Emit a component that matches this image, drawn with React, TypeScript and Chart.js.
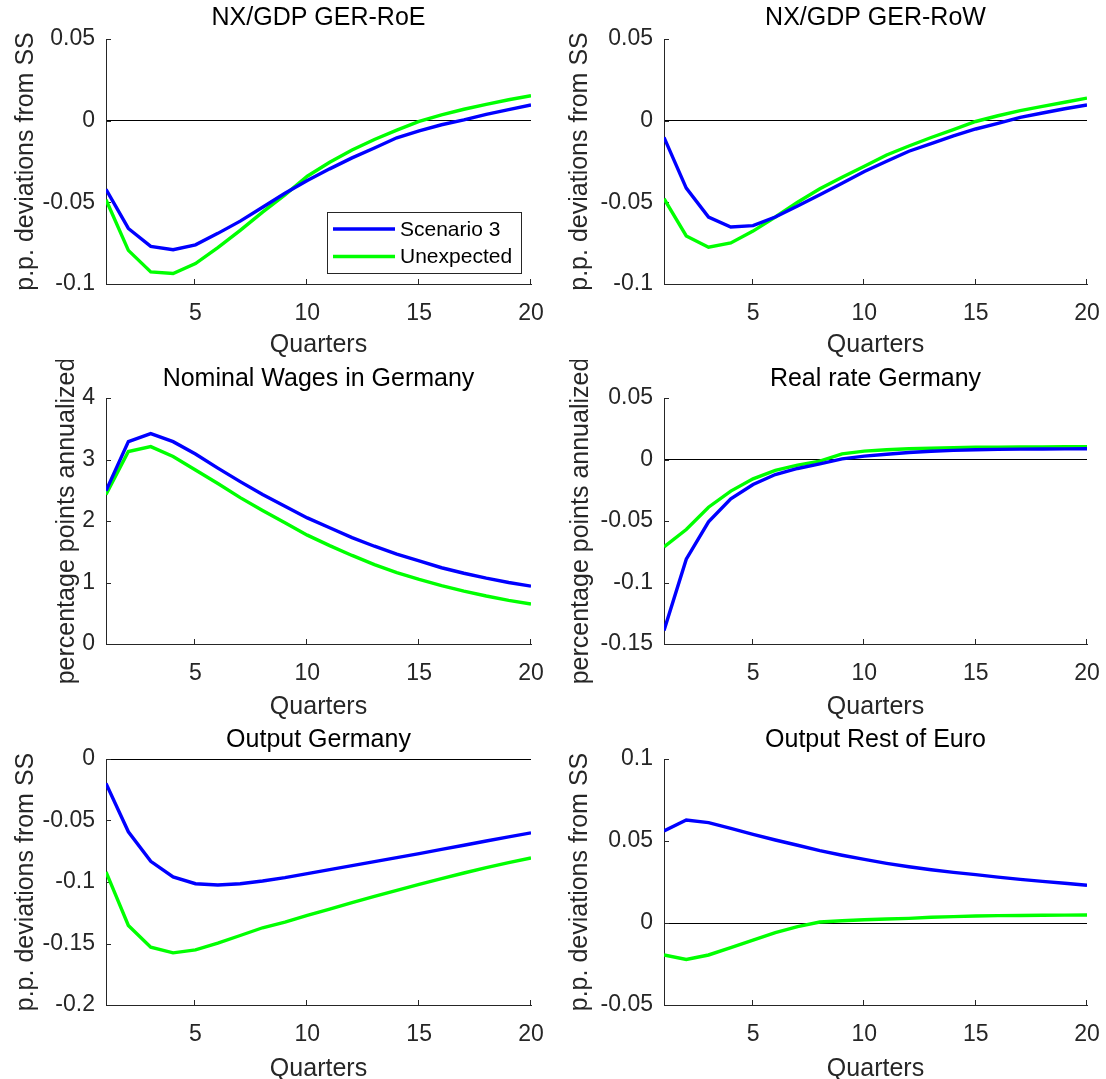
import React, { useEffect, useRef } from 'react';
import { Chart, registerables } from 'chart.js';

Chart.register(...registerables);

// ---------------- data ----------------
const quarters = [1, 2, 3, 4, 5, 6, 7, 8, 9, 10, 11, 12, 13, 14, 15, 16, 17, 18, 19, 20];
const seriesNames = ['Scenario 3', 'Unexpected'];
const xTicks = [5, 10, 15, 20];
const xTickLabels = ['5', '10', '15', '20'];

const nxRoeScenario3 = [-0.042, -0.066, -0.077, -0.079, -0.076, -0.069, -0.0615, -0.053, -0.0444, -0.0366, -0.0295, -0.0228, -0.0167, -0.0105, -0.0062, -0.0025, 0.0005, 0.0039, 0.0068, 0.0096];
const nxRoeUnexpected = [-0.0484, -0.0794, -0.0926, -0.0936, -0.0875, -0.0777, -0.0672, -0.056, -0.0454, -0.034, -0.0255, -0.018, -0.0115, -0.0058, -0.0005, 0.0035, 0.007, 0.01, 0.0128, 0.0153];
const nxYTicks = [-0.1, -0.05, 0, 0.05];
const nxYTickLabels = ['-0.1', '-0.05', '0', '0.05'];

const nxRowScenario3 = [-0.0102, -0.0413, -0.059, -0.0651, -0.0643, -0.059, -0.0523, -0.0454, -0.0383, -0.0311, -0.0248, -0.0187, -0.014, -0.0093, -0.0051, -0.0016, 0.002, 0.0047, 0.0073, 0.0096];
const nxRowUnexpected = [-0.0478, -0.0706, -0.0775, -0.0749, -0.0676, -0.059, -0.0499, -0.0417, -0.0346, -0.0279, -0.021, -0.0155, -0.0103, -0.0055, -0.0005, 0.003, 0.0061, 0.0088, 0.0113, 0.0138];

const wagesScenario3 = [2.49, 3.29, 3.42, 3.29, 3.09, 2.86, 2.64, 2.43, 2.24, 2.05, 1.89, 1.73, 1.59, 1.46, 1.35, 1.24, 1.15, 1.07, 1.0, 0.94];
const wagesUnexpected = [2.43, 3.13, 3.21, 3.05, 2.83, 2.61, 2.38, 2.17, 1.97, 1.77, 1.6, 1.44, 1.29, 1.16, 1.05, 0.95, 0.86, 0.78, 0.71, 0.65];
const wagesYTicks = [0, 1, 2, 3, 4];
const wagesYTickLabels = ['0', '1', '2', '3', '4'];

const realRateScenario3 = [-0.139, -0.081, -0.0507, -0.032, -0.0203, -0.0122, -0.0073, -0.0035, 0.0005, 0.0027, 0.0043, 0.0057, 0.0067, 0.0074, 0.0079, 0.0082, 0.0084, 0.0085, 0.0086, 0.0087];
const realRateUnexpected = [-0.071, -0.0569, -0.0388, -0.0257, -0.0157, -0.0089, -0.0046, -0.0014, 0.0046, 0.0068, 0.0079, 0.0087, 0.0092, 0.0096, 0.0099, 0.0101, 0.0102, 0.0103, 0.0104, 0.0104];
const realRateYTicks = [-0.15, -0.1, -0.05, 0, 0.05];
const realRateYTickLabels = ['-0.15', '-0.1', '-0.05', '0', '0.05'];

const outputGerScenario3 = [-0.0198, -0.0592, -0.0832, -0.0959, -0.1014, -0.1024, -0.1014, -0.0992, -0.0965, -0.0932, -0.09, -0.0867, -0.0834, -0.0802, -0.0769, -0.0735, -0.0701, -0.0667, -0.0633, -0.06];
const outputGerUnexpected = [-0.0918, -0.1353, -0.153, -0.1576, -0.1552, -0.1497, -0.1435, -0.1372, -0.1326, -0.1272, -0.122, -0.1168, -0.1117, -0.1068, -0.1019, -0.0973, -0.0927, -0.0883, -0.0842, -0.0804];
const outputGerYTicks = [-0.2, -0.15, -0.1, -0.05, 0];
const outputGerYTickLabels = ['-0.2', '-0.15', '-0.1', '-0.05', '0'];

const outputRoeScenario3 = [0.0561, 0.0628, 0.0612, 0.0577, 0.0541, 0.0506, 0.0474, 0.0441, 0.0413, 0.0388, 0.0364, 0.0343, 0.0325, 0.0309, 0.0295, 0.028, 0.0266, 0.0254, 0.0242, 0.023];
const outputRoeUnexpected = [-0.0195, -0.0222, -0.0195, -0.015, -0.0104, -0.0059, -0.0022, 0.0006, 0.0014, 0.002, 0.0024, 0.0028, 0.0035, 0.0039, 0.0043, 0.0045, 0.0046, 0.0047, 0.0048, 0.0049];
const outputRoeYTicks = [-0.05, 0, 0.05, 0.1];
const outputRoeYTickLabels = ['-0.05', '0', '0.05', '0.1'];

// ---------------- styling ----------------
const FONT = '"Liberation Sans", Arial, Helvetica, sans-serif';
const AXIS = '#262626';
const BLUE = '#0000ff';
const GREEN = '#00ff00';
const LINE_W = 3.4;
const TITLE_SIZE = 25;
const TICK_SIZE = 23;

type Spec = {
  title: string;
  yLabel: string;
  s3: number[];
  un: number[];
  yTicks: number[];
  yTickLabels: string[];
  legend: boolean;
  box: { left: number; top: number; width: number; height: number };
  yW: number;
  padR: number;
  titlePadTop: number;
  titlePadBottom: number;
  xH: number;
  xTitlePadBottom: number;
  yTitlePadTop: number;
};

const inwardTicks = {
  id: 'inwardTicks',
  beforeDatasetsDraw(chart: any) {
    const { ctx, chartArea, scales } = chart;
    const { left, bottom } = chartArea;
    ctx.save();
    ctx.strokeStyle = AXIS;
    ctx.lineWidth = 1;
    ctx.beginPath();
    scales.x.ticks.forEach((t: any) => {
      const px = Math.round(scales.x.getPixelForValue(t.value)) - 0.5;
      ctx.moveTo(px, bottom);
      ctx.lineTo(px, bottom - 5);
    });
    scales.y.ticks.forEach((t: any) => {
      const py = Math.round(scales.y.getPixelForValue(t.value)) + 0.5;
      ctx.moveTo(left, py);
      ctx.lineTo(left + 5, py);
    });
    ctx.stroke();
    ctx.restore();
  },
};

const boxLegend = {
  id: 'boxLegend',
  afterDatasetsDraw(chart: any, _args: any, opts: any) {
    if (!opts || !opts.display) return;
    const { ctx, chartArea } = chart;
    const w = 194;
    const h = 61;
    const bx = Math.round(chartArea.right - 10 - w);
    const by = Math.round(chartArea.bottom - 11 - h);
    ctx.save();
    ctx.fillStyle = '#ffffff';
    ctx.fillRect(bx, by, w, h);
    ctx.strokeStyle = AXIS;
    ctx.lineWidth = 1;
    ctx.strokeRect(bx + 0.5, by + 0.5, w, h);
    chart.data.datasets.forEach((ds: any, i: number) => {
      const ly = by + 17 + i * 27.5;
      ctx.strokeStyle = ds.borderColor;
      ctx.lineWidth = ds.borderWidth;
      ctx.beginPath();
      ctx.moveTo(bx + 6, ly);
      ctx.lineTo(bx + 68, ly);
      ctx.stroke();
      ctx.fillStyle = '#000000';
      ctx.font = `21px ${FONT}`;
      ctx.textBaseline = 'middle';
      ctx.textAlign = 'left';
      ctx.fillText(ds.label, bx + 73, ly + 1);
    });
    ctx.restore();
  },
};

function Panel({ spec }: { spec: Spec }) {
  const ref = useRef<HTMLCanvasElement>(null);
  useEffect(() => {
    const canvas = ref.current;
    if (!canvas) return;
    const toPts = (arr: number[]) => quarters.map((q, i) => ({ x: q, y: arr[i] }));
    const chart = new Chart(canvas, {
      type: 'line',
      data: {
        datasets: [
          { label: seriesNames[0], data: toPts(spec.s3), borderColor: BLUE, backgroundColor: BLUE, borderWidth: LINE_W, pointRadius: 0, tension: 0, fill: false },
          { label: seriesNames[1], data: toPts(spec.un), borderColor: GREEN, backgroundColor: GREEN, borderWidth: LINE_W, pointRadius: 0, tension: 0, fill: false },
        ],
      },
      options: {
        animation: false,
        responsive: false,
        devicePixelRatio: 1,
        layout: { padding: { left: 0, right: spec.padR, top: 0, bottom: 0 } },
        plugins: {
          legend: { display: false },
          tooltip: { enabled: false },
          title: {
            display: true,
            text: spec.title,
            color: '#000000',
            fullSize: false,
            font: { family: FONT, size: TITLE_SIZE, weight: 'normal' },
            padding: { top: spec.titlePadTop, bottom: spec.titlePadBottom },
          },
          boxLegend: { display: spec.legend },
        } as any,
        scales: {
          x: {
            type: 'linear',
            min: 1,
            max: 20,
            afterBuildTicks: (s: any) => {
              s.ticks = xTicks.map((v) => ({ value: v }));
            },
            afterFit: (s: any) => {
              s.height = spec.xH;
              s.paddingLeft = 0;
              s.paddingRight = 0;
            },
            grid: { drawOnChartArea: false, drawTicks: false },
            border: { display: true, color: AXIS, width: 1 },
            ticks: {
              color: AXIS,
              font: { family: FONT, size: TICK_SIZE },
              padding: 16,
              maxRotation: 0,
              autoSkip: false,
              callback: (_v: any, i: number) => xTickLabels[i],
            },
            title: {
              display: true,
              text: 'Quarters',
              color: AXIS,
              font: { family: FONT, size: TITLE_SIZE },
              padding: { top: 0, bottom: spec.xTitlePadBottom },
            },
          },
          y: {
            type: 'linear',
            min: spec.yTicks[0],
            max: spec.yTicks[spec.yTicks.length - 1],
            afterBuildTicks: (s: any) => {
              s.ticks = spec.yTicks.map((v) => ({ value: v }));
            },
            afterFit: (s: any) => {
              s.width = spec.yW;
            },
            grid: {
              drawTicks: false,
              lineWidth: 1,
              color: (c: any) => (c.tick && c.tick.value === 0 ? '#000000' : 'rgba(0,0,0,0)'),
            },
            border: { display: true, color: AXIS, width: 1 },
            ticks: {
              color: AXIS,
              font: { family: FONT, size: TICK_SIZE },
              padding: 11,
              autoSkip: false,
              callback: (_v: any, i: number) => spec.yTickLabels[i],
            },
            title: {
              display: true,
              text: spec.yLabel,
              color: AXIS,
              font: { family: FONT, size: TITLE_SIZE },
              padding: { top: spec.yTitlePadTop, bottom: 0 },
            },
          },
        },
      } as any,
      plugins: [inwardTicks, boxLegend],
    });
    return () => chart.destroy();
  }, [spec]);
  return (
    <div style={{ position: 'absolute', left: spec.box.left, top: spec.box.top, width: spec.box.width, height: spec.box.height }}>
      <canvas ref={ref} width={spec.box.width} height={spec.box.height} style={{ display: 'block' }} />
    </div>
  );
}

const PP = 'p.p. deviations from SS';
const PA = 'percentage points annualized';

const leftCol = { left: 0, width: 553, yW: 106, padR: 22 };
const rightCol = { left: 553, width: 553, yW: 111, padR: 19 };
const row1 = { top: 0, height: 360, titlePadTop: 3, titlePadBottom: 6, xH: 76, xTitlePadBottom: 0 };
const row2 = { top: 360, height: 360, titlePadTop: 4, titlePadBottom: 4, xH: 76, xTitlePadBottom: -2 };
const row3 = { top: 720, height: 359, titlePadTop: 5, titlePadBottom: 4, xH: 74, xTitlePadBottom: -5 };

function mk(col: any, row: any, rest: any, yTitlePadTop: number): Spec {
  return {
    ...rest,
    box: { left: col.left, top: row.top, width: col.width, height: row.height },
    yW: col.yW,
    padR: col.padR,
    titlePadTop: row.titlePadTop,
    titlePadBottom: row.titlePadBottom,
    xH: row.xH,
    xTitlePadBottom: row.xTitlePadBottom,
    yTitlePadTop,
  };
}

const specs: Spec[] = [
  mk(leftCol, row1, { title: 'NX/GDP GER-RoE', yLabel: PP, s3: nxRoeScenario3, un: nxRoeUnexpected, yTicks: nxYTicks, yTickLabels: nxYTickLabels, legend: true }, 11),
  mk(rightCol, row1, { title: 'NX/GDP GER-RoW', yLabel: PP, s3: nxRowScenario3, un: nxRowUnexpected, yTicks: nxYTicks, yTickLabels: nxYTickLabels, legend: false }, 12),
  mk(leftCol, row2, { title: 'Nominal Wages in Germany', yLabel: PA, s3: wagesScenario3, un: wagesUnexpected, yTicks: wagesYTicks, yTickLabels: wagesYTickLabels, legend: false }, 52),
  mk(rightCol, row2, { title: 'Real rate Germany', yLabel: PA, s3: realRateScenario3, un: realRateUnexpected, yTicks: realRateYTicks, yTickLabels: realRateYTickLabels, legend: false }, 13),
  mk(leftCol, row3, { title: 'Output Germany', yLabel: PP, s3: outputGerScenario3, un: outputGerUnexpected, yTicks: outputGerYTicks, yTickLabels: outputGerYTickLabels, legend: false }, 11),
  mk(rightCol, row3, { title: 'Output Rest of Euro', yLabel: PP, s3: outputRoeScenario3, un: outputRoeUnexpected, yTicks: outputRoeYTicks, yTickLabels: outputRoeYTickLabels, legend: false }, 12),
];

export default function App() {
  return (
    <div style={{ position: 'absolute', left: 0, top: 0, width: 1106, height: 1079, background: '#ffffff', overflow: 'hidden' }}>
      {specs.map((s, i) => (
        <Panel key={i} spec={s} />
      ))}
    </div>
  );
}
